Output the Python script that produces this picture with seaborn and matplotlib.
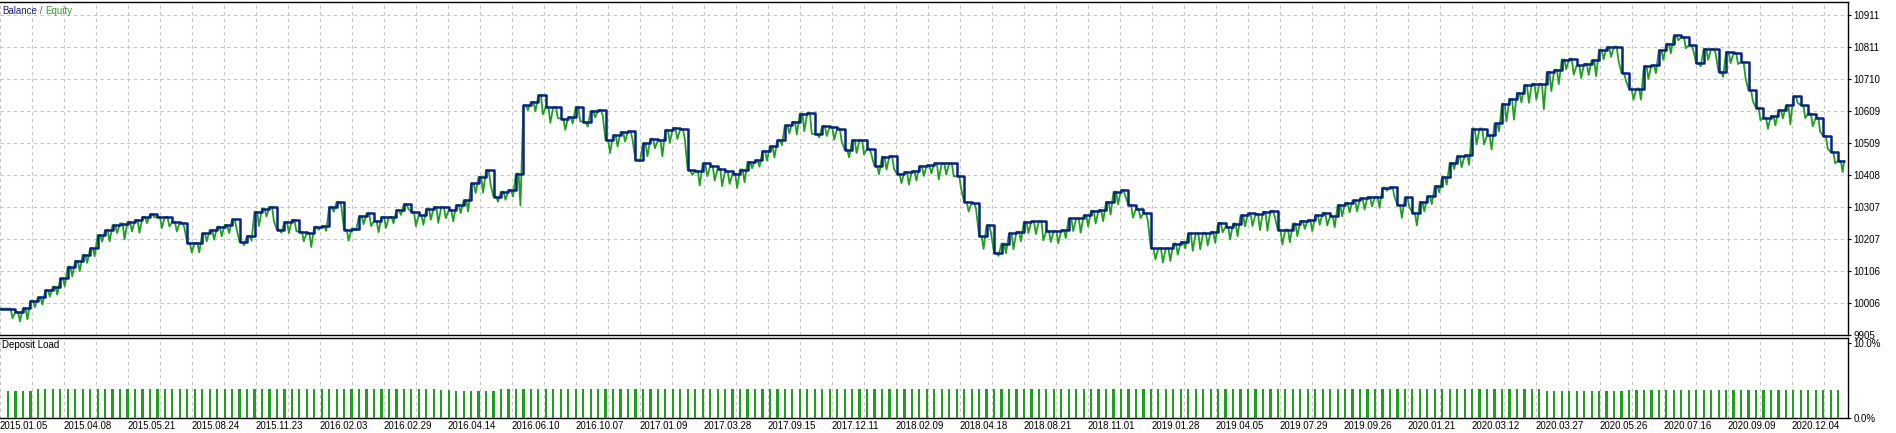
import numpy as np
import matplotlib
matplotlib.use("Agg")
import matplotlib.pyplot as plt
import seaborn as sns

# --- datos (una entrada por operacion) ---
balance = [
    9988, 9978, 9989, 10013, 10024, 10046, 10057, 10083, 10120, 10138,
    10157, 10178, 10219, 10235, 10251, 10256, 10261, 10267, 10277, 10285,
    10277, 10277, 10261, 10259, 10195, 10195, 10225, 10235, 10246, 10251,
    10269, 10198, 10217, 10293, 10303, 10308, 10237, 10261, 10267, 10230,
    10227, 10246, 10248, 10308, 10324, 10237, 10240, 10279, 10288, 10264,
    10277, 10277, 10298, 10317, 10293, 10282, 10303, 10308, 10308, 10298,
    10314, 10329, 10382, 10403, 10424, 10340, 10356, 10361, 10413, 10628,
    10639, 10660, 10623, 10623, 10586, 10591, 10623, 10576, 10610, 10613,
    10518, 10534, 10544, 10546, 10457, 10508, 10523, 10518, 10550, 10557,
    10553, 10424, 10421, 10445, 10436, 10429, 10421, 10413, 10426, 10450,
    10455, 10484, 10499, 10518, 10565, 10576, 10602, 10604, 10537, 10562,
    10560, 10555, 10489, 10518, 10518, 10492, 10436, 10466, 10468, 10413,
    10418, 10421, 10436, 10439, 10445, 10445, 10445, 10405, 10324, 10321,
    10216, 10251, 10164, 10193, 10225, 10230, 10261, 10263, 10263, 10233,
    10233, 10235, 10272, 10272, 10282, 10296, 10298, 10324, 10356, 10361,
    10314, 10303, 10288, 10178, 10178, 10178, 10193, 10198, 10225, 10225,
    10227, 10230, 10258, 10246, 10256, 10282, 10288, 10285, 10293, 10296,
    10235, 10237, 10256, 10264, 10267, 10282, 10290, 10279, 10314, 10321,
    10329, 10335, 10340, 10340, 10369, 10371, 10314, 10338, 10290, 10324,
    10342, 10374, 10403, 10447, 10468, 10471, 10555, 10555, 10534, 10571,
    10633, 10648, 10667, 10691, 10696, 10696, 10733, 10740, 10772, 10775,
    10754, 10759, 10770, 10803, 10811, 10813, 10730, 10681, 10681, 10751,
    10754, 10801, 10822, 10848, 10843, 10817, 10761, 10806, 10806, 10733,
    10796, 10793, 10764, 10675, 10621, 10589, 10595, 10612, 10628, 10656,
    10628, 10602, 10589, 10532, 10481, 10453,
]

# caida maxima de equity en cada operacion (respecto al balance)
equity_dip = [
    30, 30, 35, 20, 23, 20, 25, 25, 30, 32,
    25, 25, 20, 35, 25, 50, 30, 40, 20, 10,
    35, 30, 30, 15, 30, 30, 25, 30, 30, 25,
    30, 10, 15, 45, 25, 45, 10, 35, 35, 30,
    45, 10, 15, 15, 10, 35, 5, 25, 40, 35,
    35, 20, 15, 15, 45, 30, 35, 50, 35, 35,
    25, 35, 30, 50, 45, 15, 25, 20, 100, 15,
    30, 60, 50, 35, 35, 20, 45, 15, 20, 15,
    40, 35, 30, 25, 5, 40, 30, 50, 40, 35,
    30, 15, 45, 40, 45, 55, 40, 45, 40, 20,
    20, 30, 35, 15, 25, 40, 55, 65, 10, 30,
    40, 40, 25, 40, 45, 20, 25, 40, 40, 30,
    40, 30, 30, 25, 50, 35, 40, 40, 30, 20,
    40, 25, 10, 30, 50, 30, 35, 40, 60, 35,
    40, 25, 40, 45, 35, 40, 35, 40, 40, 20,
    40, 30, 25, 35, 45, 40, 35, 20, 55, 50,
    40, 35, 30, 40, 40, 35, 40, 50, 60, 20,
    45, 40, 40, 25, 35, 30, 40, 35, 35, 30,
    35, 35, 30, 35, 10, 30, 40, 30, 40, 30,
    25, 20, 25, 20, 35, 30, 50, 50, 45, 25,
    55, 65, 30, 55, 50, 80, 60, 45, 30, 50,
    40, 35, 50, 30, 30, 45, 25, 35, 35, 40,
    25, 30, 30, 15, 35, 15, 10, 35, 15, 15,
    35, 35, 50, 35, 40, 35, 30, 25, 60, 20,
    40, 40, 45, 40, 35, 35,
]

# carga del deposito (%)
deposit_load = [
    3.6, 3.6, 3.6, 3.6, 3.8, 3.8, 3.8, 3.8, 3.8, 3.8,
    3.8, 3.8, 3.8, 3.8, 3.8, 3.8, 3.8, 3.8, 3.8, 3.8,
    3.8, 3.8, 3.8, 3.8, 3.8, 3.8, 3.8, 3.8, 3.8, 3.8,
    3.8, 3.8, 3.8, 3.8, 3.8, 3.8, 3.8, 3.8, 3.8, 3.8,
    3.8, 3.8, 3.8, 3.8, 3.8, 3.8, 3.8, 3.8, 3.8, 3.8,
    3.8, 3.8, 3.8, 3.8, 3.8, 3.8, 3.8, 3.8, 3.7, 3.7,
    3.6, 3.6, 3.6, 3.6, 3.6, 3.6, 3.8, 3.8, 3.8, 3.8,
    3.8, 3.8, 3.8, 3.8, 3.8, 3.8, 3.8, 3.8, 3.8, 3.8,
    3.8, 3.8, 3.8, 3.8, 3.8, 3.8, 3.8, 3.8, 3.8, 3.8,
    3.8, 3.8, 3.8, 3.8, 3.8, 3.8, 3.8, 3.8, 3.8, 3.8,
    3.8, 3.8, 3.8, 3.8, 3.8, 3.8, 3.8, 3.8, 3.8, 3.8,
    3.8, 3.8, 3.8, 3.8, 3.8, 3.8, 3.8, 3.8, 3.8, 3.8,
    3.8, 3.8, 3.8, 3.8, 3.8, 3.8, 3.8, 3.8, 3.8, 3.8,
    3.8, 3.8, 3.8, 3.8, 3.8, 3.8, 3.8, 3.8, 3.8, 3.8,
    3.8, 3.8, 3.8, 3.8, 3.8, 3.8, 3.8, 3.8, 3.8, 3.8,
    3.8, 3.8, 3.8, 3.8, 3.8, 3.8, 3.8, 3.8, 3.8, 3.8,
    3.8, 3.8, 3.8, 3.8, 3.8, 3.8, 3.8, 3.8, 3.8, 3.8,
    3.8, 3.8, 3.8, 3.8, 3.8, 3.8, 3.8, 3.8, 3.8, 3.8,
    3.8, 3.8, 3.8, 3.8, 3.8, 3.8, 3.8, 3.8, 3.8, 3.8,
    3.8, 3.8, 3.8, 3.8, 3.8, 3.8, 3.8, 3.8, 3.8, 3.8,
    3.8, 3.8, 3.8, 3.8, 3.8, 3.8, 3.6, 3.6, 3.6, 3.6,
    3.6, 3.6, 3.6, 3.6, 3.6, 3.6, 3.6, 3.7, 3.7, 3.7,
    3.7, 3.7, 3.7, 3.7, 3.7, 3.7, 3.7, 3.7, 3.7, 3.7,
    3.7, 3.7, 3.75, 3.75, 3.75, 3.75, 3.75, 3.75, 3.75, 3.75,
    3.75, 3.75, 3.75, 3.75, 3.75, 3.75,
]

y_ticks = [9905, 10006, 10106, 10207, 10307, 10408, 10509, 10609, 10710, 10811, 10911]

date_labels = [
    "2015.01.05", "2015.04.08", "2015.05.21", "2015.08.24", "2015.11.23",
    "2016.02.03", "2016.02.29", "2016.04.14", "2016.06.10", "2016.10.07",
    "2017.01.09", "2017.03.28", "2017.09.15", "2017.12.11", "2018.02.09",
    "2018.04.18", "2018.08.21", "2018.11.01", "2019.01.28", "2019.04.05",
    "2019.07.29", "2019.09.26", "2020.01.21", "2020.03.12", "2020.03.27",
    "2020.05.26", "2020.07.16", "2020.09.09", "2020.12.04",
]

# --- estilo ---
sns.set_style("white")
plt.rcParams["font.family"] = ["Liberation Sans", "DejaVu Sans"]

BLUE = "#0a2480"
GREEN = "#1ea01e"
GRID = "#c6c6c6"
TXT = "#000000"
FS = 7.0

W, H = 1896, 433
fig = plt.figure(figsize=(W / 100, H / 100), dpi=100)
ax = fig.add_axes([0, 1 - 335 / H, 1848 / W, (335 - 1.5) / H])
ax2 = fig.add_axes([0, 1 - 418 / H, 1848 / W, (418 - 337.5) / H])

n = len(balance)
trades = np.arange(n)
px_per_trade = 7.47
x_left = -1.07
x_right = x_left + 1848 / px_per_trade
grid_step = 32 / px_per_trade
grid_x = x_left + grid_step * np.arange(58)

# --- balance / equity ---
bx = [x_left] + list(trades) + [n - 1 + 0.8]
by = [balance[0]] + balance + [balance[-1]]

eq_x, eq_y = [x_left], [balance[0]]
for i in range(n):
    eq_x += [i, i + 0.35, i + 0.6]
    eq_y += [balance[i], balance[i], balance[i] - equity_dip[i]]
eq_x.append(n - 1 + 0.8)
eq_y.append(balance[-1])

sns.lineplot(x=eq_x, y=eq_y, sort=False, estimator=None, color=GREEN,
             linewidth=1.3, ax=ax, zorder=3)
sns.lineplot(x=bx, y=by, sort=False, estimator=None, color=BLUE,
             linewidth=1.8, drawstyle="steps-post", ax=ax, zorder=4)

ax.set_xlim(x_left, x_right)
ax.set_ylim(9905, 10955)
ax.set_yticks(y_ticks)
ax.set_yticklabels([str(v) for v in y_ticks])
ax.yaxis.tick_right()
ax.set_xticks(grid_x)
ax.set_xticklabels([])
ax.tick_params(axis="x", length=0)
ax.tick_params(axis="y", length=2.2, width=0.8, pad=1.5, labelsize=FS,
               colors=TXT, direction="out")
ax.grid(True, color=GRID, linestyle=(0, (3, 3)), linewidth=0.8)
ax.set_axisbelow(True)
ax.set_xlabel("")
ax.set_ylabel("")
for s in ["top", "right", "bottom"]:
    ax.spines[s].set_color("black")
    ax.spines[s].set_linewidth(1.0)
ax.spines["left"].set_visible(False)

# --- carga del deposito ---
ax2.bar(trades, deposit_load, width=0.3, color=GREEN, linewidth=0,
        antialiased=False, zorder=3)
ax2.set_xlim(x_left, x_right)
ax2.set_ylim(0, 10.67)
ax2.set_yticks([0, 10])
ax2.set_yticklabels(["0.0%", "10.0%"])
ax2.yaxis.tick_right()
tick_text = [date_labels[k // 2] if k % 2 == 0 else "" for k in range(len(grid_x))]
ax2.set_xticks(grid_x)
ax2.set_xticklabels(tick_text)
for lab in ax2.get_xticklabels():
    lab.set_horizontalalignment("left")
ax2.tick_params(axis="x", length=0, pad=2.5, labelsize=FS, colors=TXT)
ax2.tick_params(axis="y", length=2.2, width=0.8, pad=1.5, labelsize=FS,
                colors=TXT, direction="out")
ax2.grid(True, axis="x", color=GRID, linestyle=(0, (3, 3)), linewidth=0.8)
ax2.set_axisbelow(True)
for s in ["top", "right", "bottom"]:
    ax2.spines[s].set_color("black")
    ax2.spines[s].set_linewidth(1.0)
ax2.spines["left"].set_visible(False)

# --- titulos (encadenados para que no se pisen) ---
t1 = fig.text(2 / W, 1 - 11 / H, "Balance", color="#1c1c8a", fontsize=FS, va="center")
t2 = ax.annotate(" / ", xy=(1, 0.5), xycoords=t1, color="#555555",
                 fontsize=FS, va="center", ha="left")
ax.annotate("Equity", xy=(1, 0.5), xycoords=t2, color="#2ca02c",
            fontsize=FS, va="center", ha="left")
fig.text(2 / W, 1 - 345.5 / H, "Deposit Load", color=TXT, fontsize=FS, va="center")

fig.savefig("out.png", dpi=100, facecolor="white")
